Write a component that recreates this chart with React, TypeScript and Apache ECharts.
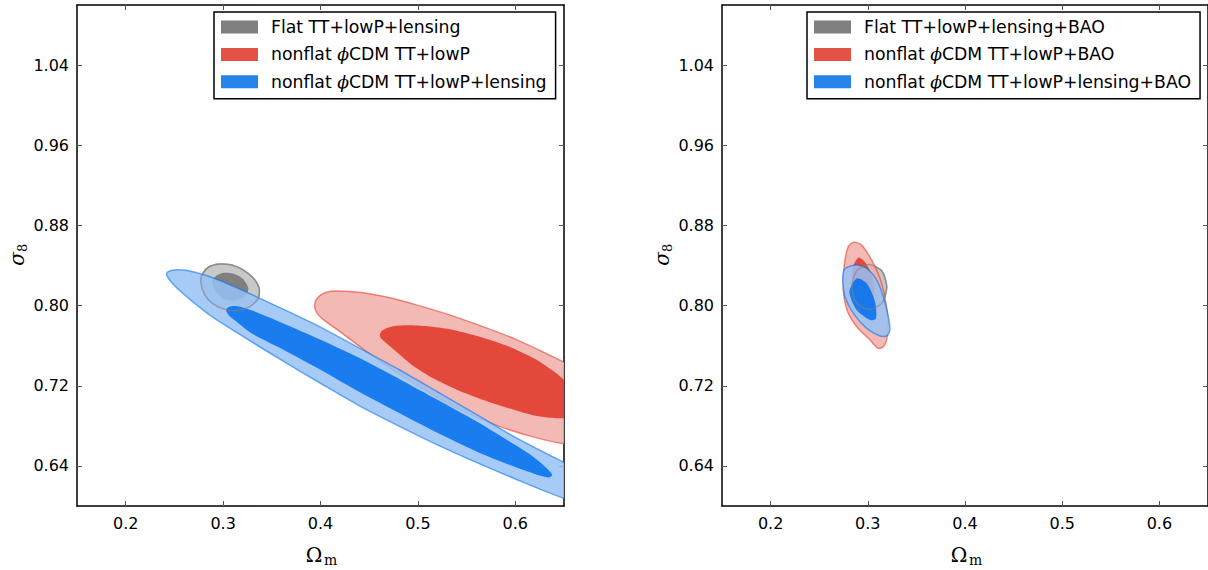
import React, { useEffect, useRef } from "react";
import * as echarts from "echarts";

// ---- axis ticks ----
const X_TICKS = [0.2, 0.3, 0.4, 0.5, 0.6];
const Y_TICKS = [0.64, 0.72, 0.8, 0.88, 0.96, 1.04];
const X_RANGE = [0.15, 0.65];
const Y_RANGE = [0.6, 1.1];

// ---- legend labels ----
const LEFT_NAMES = ["Flat TT+lowP+lensing", "nonflat ϕCDM TT+lowP", "nonflat ϕCDM TT+lowP+lensing"];
const RIGHT_NAMES = ["Flat TT+lowP+lensing+BAO", "nonflat ϕCDM TT+lowP+BAO", "nonflat ϕCDM TT+lowP+lensing+BAO"];

// ---- contour outlines (Omega_m, sigma_8) ----
// Left panel
const GRAY_OUTER_L = [[0.2771, 0.824], [0.2790, 0.8320], [0.2860, 0.8390], [0.2966, 0.8415], [0.3090, 0.8405], [0.3205, 0.8356], [0.3310, 0.8275], [0.3370, 0.8175], [0.3360, 0.8070], [0.3274, 0.7990], [0.3154, 0.7952], [0.3030, 0.7960], [0.2900, 0.8015], [0.2810, 0.8110]];
const GRAY_INNER_L = [[0.2890, 0.8240], [0.2932, 0.8300], [0.3010, 0.8328], [0.3110, 0.8318], [0.3205, 0.8265], [0.3260, 0.8170], [0.3222, 0.8090], [0.3120, 0.8050], [0.3010, 0.8065], [0.2925, 0.8140]];
const RED_OUTER_L = [[0.3941, 0.799], [0.395, 0.805], [0.4, 0.8105], [0.407, 0.8135], [0.415, 0.8145], [0.43, 0.814], [0.4471, 0.8123], [0.47, 0.808], [0.4984, 0.8007], [0.53, 0.7915], [0.5668, 0.779], [0.6, 0.7665], [0.63, 0.753], [0.65, 0.7435], [0.675, 0.729], [0.695, 0.71], [0.705, 0.687], [0.7, 0.668], [0.68, 0.659], [0.65, 0.662], [0.6182, 0.669], [0.5843, 0.6792], [0.55, 0.693], [0.5158, 0.7108], [0.48, 0.732], [0.4474, 0.754], [0.42, 0.774], [0.403, 0.786], [0.396, 0.793]];
const RED_INNER_L = [[0.4608, 0.7707], [0.463, 0.7748], [0.469, 0.778], [0.478, 0.78], [0.49, 0.7805], [0.51, 0.7795], [0.5326, 0.7765], [0.56, 0.77], [0.59, 0.7605], [0.62, 0.747], [0.64, 0.734], [0.65, 0.726], [0.66, 0.716], [0.665, 0.704], [0.664, 0.694], [0.658, 0.688], [0.65, 0.6875], [0.635, 0.688], [0.6172, 0.6908], [0.59, 0.6985], [0.5672, 0.7058], [0.54, 0.716], [0.5158, 0.7274], [0.495, 0.74], [0.478, 0.754], [0.467, 0.763], [0.462, 0.7675]];
const BLUE_OUTER_L = [[0.2418, 0.8316], [0.245, 0.8345], [0.252, 0.8358], [0.262, 0.8352], [0.275, 0.8322], [0.29, 0.8275], [0.31, 0.8195], [0.335, 0.8085], [0.365, 0.795], [0.4, 0.7785], [0.44, 0.7575], [0.48, 0.7365], [0.52, 0.714], [0.56, 0.6915], [0.6, 0.6685], [0.64, 0.6485], [0.68, 0.629], [0.71, 0.613], [0.722, 0.603], [0.715, 0.596], [0.69, 0.599], [0.65, 0.6077], [0.6, 0.627], [0.56, 0.6435], [0.52, 0.661], [0.48, 0.68], [0.44, 0.7], [0.4, 0.7225], [0.36, 0.7455], [0.32, 0.7695], [0.29, 0.788], [0.268, 0.8045], [0.252, 0.818], [0.244, 0.827]];
const BLUE_INNER_L = [[0.303, 0.7955], [0.306, 0.7985], [0.312, 0.7995], [0.32, 0.798], [0.33, 0.795], [0.36, 0.783], [0.4, 0.766], [0.44, 0.7478], [0.48, 0.7273], [0.52, 0.706], [0.56, 0.6845], [0.6, 0.6608], [0.62, 0.648], [0.632, 0.638], [0.638, 0.631], [0.634, 0.6285], [0.62, 0.632], [0.6, 0.6388], [0.56, 0.6545], [0.52, 0.673], [0.48, 0.6933], [0.44, 0.7138], [0.4, 0.736], [0.36, 0.757], [0.33, 0.772], [0.315, 0.783], [0.306, 0.79]];
// Right panel
const GRAY_OUTER_R = [[0.3015, 0.841], [0.3145, 0.8345], [0.3195, 0.8185], [0.3145, 0.8025], [0.3015, 0.796], [0.2885, 0.8025], [0.2835, 0.8185], [0.2885, 0.8345]];
const GRAY_INNER_R = [[0.301, 0.832], [0.309, 0.827], [0.311, 0.817], [0.306, 0.807], [0.299, 0.805], [0.293, 0.811], [0.2915, 0.822], [0.295, 0.83]];
const RED_OUTER_R = [[0.2851, 0.8632], [0.292, 0.8615], [0.2989, 0.8538], [0.3074, 0.8389], [0.3143, 0.8222], [0.3187, 0.8023], [0.3211, 0.7823], [0.3194, 0.7657], [0.316, 0.759], [0.3108, 0.7573], [0.3023, 0.7657], [0.2886, 0.7789], [0.2799, 0.7923], [0.2755, 0.8089], [0.2748, 0.8256], [0.2765, 0.8455], [0.2799, 0.8588]];
const RED_INNER_R = [[0.2905, 0.848], [0.2975, 0.843], [0.304, 0.83], [0.3065, 0.815], [0.305, 0.8], [0.298, 0.795], [0.289, 0.805], [0.284, 0.822], [0.2845, 0.838]];
const BLUE_OUTER_R = [[0.2799, 0.8387], [0.2886, 0.8404], [0.2989, 0.8371], [0.3092, 0.8254], [0.316, 0.8089], [0.3211, 0.7889], [0.3228, 0.7757], [0.3194, 0.7697], [0.3126, 0.7697], [0.2989, 0.7773], [0.2851, 0.7923], [0.2765, 0.8089], [0.2742, 0.8256], [0.2755, 0.8355]];
const BLUE_INNER_R = [[0.2886, 0.8271], [0.2989, 0.8222], [0.3074, 0.8039], [0.3085, 0.7872], [0.3023, 0.7856], [0.2886, 0.7955], [0.281, 0.8138]];

const GRAY = "#808080";
const RED = "#e35244";
const BLUE = "#2683ea";

const FONT = "'DejaVu Sans', sans-serif";

function contour(name: string, pts: number[][], gi: number, fill: string, stroke: string | null, legendColor: string) {
  return {
    type: "custom",
    name,
    xAxisIndex: gi * 2,
    yAxisIndex: gi * 2,
    data: pts,
    clip: true,
    silent: true,
    itemStyle: { color: legendColor },
    renderItem: (params: any, api: any) => {
      if (params.dataIndex !== 0) return null;
      const points = pts.map((p) => api.coord(p));
      return {
        type: "polygon",
        shape: { points, smooth: 0.25 },
        style: {
          fill,
          stroke: stroke || "none",
          lineWidth: stroke ? 1.5 : 0,
        },
      };
    },
  };
}

function axesFor(gi: number) {
  const line = { show: true, onZero: false, lineStyle: { color: "#000", width: 1.5 } };
  const tick = (vals: number[]) => ({ show: true, inside: true, length: 5, customValues: vals, lineStyle: { color: "#555", width: 1 } });
  const x = [
    {
      gridIndex: gi, type: "value", min: X_RANGE[0], max: X_RANGE[1], position: "bottom",
      axisLine: line, axisTick: tick(X_TICKS), splitLine: { show: false },
      axisLabel: { customValues: X_TICKS, formatter: (v: number) => v.toFixed(1), fontSize: 16, color: "#000", fontFamily: FONT, margin: 9 },
    },
    {
      gridIndex: gi, type: "value", min: X_RANGE[0], max: X_RANGE[1], position: "top",
      axisLine: line, axisTick: tick(X_TICKS), splitLine: { show: false }, axisLabel: { show: false },
    },
  ];
  const y = [
    {
      gridIndex: gi, type: "value", min: Y_RANGE[0], max: Y_RANGE[1], position: "left",
      axisLine: line, axisTick: tick(Y_TICKS), splitLine: { show: false },
      axisLabel: { customValues: Y_TICKS, formatter: (v: number) => v.toFixed(2), fontSize: 16, color: "#000", fontFamily: FONT, margin: 8 },
    },
    {
      gridIndex: gi, type: "value", min: Y_RANGE[0], max: Y_RANGE[1], position: "right",
      axisLine: line, axisTick: tick(Y_TICKS), splitLine: { show: false }, axisLabel: { show: false },
    },
  ];
  return { x, y };
}

function panelSeries(gi: number, names: string[], sets: number[][][]) {
  const [go, gin, ro, ri, bo, bi] = sets;
  return [
    contour(names[0], go, gi, "#c8c8c8", "#9a9a9a", GRAY),
    contour(names[0], gin, gi, "#808080", null, GRAY),
    contour(names[1], ro, gi, "rgba(241,174,168,0.85)", "rgba(224,52,36,0.55)", RED),
    contour(names[1], ri, gi, "rgba(224,52,36,0.85)", null, RED),
    contour(names[2], bo, gi, "rgba(150,194,244,0.85)", "rgba(0,111,237,0.55)", BLUE),
    contour(names[2], bi, gi, "rgba(0,111,237,0.85)", null, BLUE),
    contour(names[0], go, gi, "none", "rgba(130,130,130,0.55)", GRAY),
  ];
}

function legendFor(left: number, names: string[]) {
  const colors = [GRAY, RED, BLUE];
  return {
    orient: "vertical",
    left,
    top: 12,
    padding: [5, 9, 7, 7],
    itemWidth: 37,
    itemHeight: 13,
    itemGap: 7.4,
    borderColor: "#000",
    borderWidth: 1.5,
    backgroundColor: "#fff",
    icon: "rect",
    selectedMode: false,
    data: names.map((n, i) => ({ name: n, itemStyle: { color: colors[i], borderWidth: 0 } })),
    formatter: (n: string) => "{g| }" + n.replace("ϕ", "{i|ϕ}"),
    textStyle: {
      fontFamily: FONT,
      fontSize: 17.3,
      color: "#000",
      lineHeight: 20,
      rich: {
        g: { width: 8, fontSize: 17.3, lineHeight: 20 },
        i: { fontFamily: "'DejaVu Serif', serif", fontStyle: "italic", fontSize: 17.3, color: "#000", lineHeight: 20 },
      },
    },
  };
}

function axisTitles(cx: number, ylx: number, cy: number) {
  return [
    { type: "text", x: cx - 6, y: 555, style: { text: "Ω", font: "20px 'DejaVu Serif', serif", fill: "#000", align: "center", verticalAlign: "middle" } },
    { type: "text", x: cx + 4, y: 560, style: { text: "m", font: "14px 'DejaVu Serif', serif", fill: "#000", align: "left", verticalAlign: "middle" } },
    {
      type: "group", x: ylx, y: cy, rotation: Math.PI / 2,
      children: [
        { type: "text", x: -3, y: 0, style: { text: "σ", font: "italic 20px 'DejaVu Serif', serif", fill: "#000", align: "center", verticalAlign: "middle" } },
        { type: "text", x: 4, y: 5, style: { text: "8", font: "13px 'DejaVu Serif', serif", fill: "#000", align: "left", verticalAlign: "middle" } },
      ],
    },
  ];
}

export default function App() {
  const ref = useRef<HTMLDivElement>(null);
  useEffect(() => {
    if (!ref.current) return;
    const chart = echarts.init(ref.current, null, { renderer: "svg" });
    const a0 = axesFor(0);
    const a1 = axesFor(1);
    chart.setOption({
      animation: false,
      backgroundColor: "#fff",
      grid: [
        { left: 77, top: 5, width: 487, height: 501, containLabel: false },
        { left: 722, top: 5, width: 486, height: 501, containLabel: false },
      ],
      xAxis: [...a0.x, ...a1.x],
      yAxis: [...a0.y, ...a1.y],
      legend: [legendFor(214, LEFT_NAMES), legendFor(807, RIGHT_NAMES)],
      graphic: [...axisTitles(320, 17, 256), ...axisTitles(965, 662, 256)],
      series: [
        ...panelSeries(0, LEFT_NAMES, [GRAY_OUTER_L, GRAY_INNER_L, RED_OUTER_L, RED_INNER_L, BLUE_OUTER_L, BLUE_INNER_L]),
        ...panelSeries(1, RIGHT_NAMES, [GRAY_OUTER_R, GRAY_INNER_R, RED_OUTER_R, RED_INNER_R, BLUE_OUTER_R, BLUE_INNER_R]),
      ],
    });
    return () => chart.dispose();
  }, []);
  return <div ref={ref} style={{ position: "absolute", left: 0, top: 0, width: 1208, height: 570 }} />;
}
